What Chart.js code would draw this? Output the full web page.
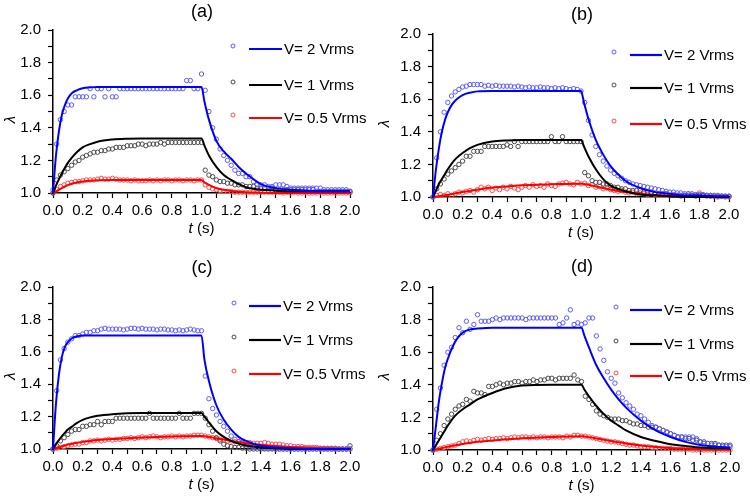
<!DOCTYPE html>
<html>
<head>
<meta charset="utf-8">
<script src="https://cdn.jsdelivr.net/npm/chart.js@4.4.1/dist/chart.umd.min.js"></script>
<style>
  body { margin: 0; background: #fff; }
  #wrap { position: relative; width: 750px; height: 497px; overflow: hidden; }
  .panel { position: absolute; }
</style>
</head>
<body>
<div id="wrap">
  <canvas id="pa" class="panel" width="375" height="248" style="left:0;top:0"></canvas>
  <canvas id="pb" class="panel" width="375" height="248" style="left:375px;top:0"></canvas>
  <canvas id="pc" class="panel" width="375" height="249" style="left:0;top:248px"></canvas>
  <canvas id="pd" class="panel" width="375" height="249" style="left:375px;top:248px"></canvas>
</div>
<script>
// measured time points (s)
const tData = [0, 0.025, 0.05, 0.075, 0.1, 0.125, 0.15, 0.175, 0.2, 0.225,
  0.25, 0.275, 0.3, 0.325, 0.35, 0.375, 0.4, 0.425, 0.45, 0.475,
  0.5, 0.525, 0.55, 0.575, 0.6, 0.625, 0.65, 0.675, 0.7, 0.725,
  0.75, 0.775, 0.8, 0.825, 0.85, 0.875, 0.9, 0.925, 0.95, 0.975,
  1.0, 1.025, 1.05, 1.075, 1.1, 1.125, 1.15, 1.175, 1.2, 1.225,
  1.25, 1.275, 1.3, 1.325, 1.35, 1.375, 1.4, 1.425, 1.45, 1.475,
  1.5, 1.525, 1.55, 1.575, 1.6, 1.625, 1.65, 1.675, 1.7, 1.725,
  1.75, 1.775, 1.8, 1.825, 1.85, 1.875, 1.9, 1.925, 1.95, 1.975,
  2.0];
// fit curve time points (s)
const tFit = [0, 0.02, 0.04, 0.06, 0.08, 0.1, 0.13, 0.16, 0.2, 0.25, 0.3, 0.4, 0.5, 0.6, 0.8, 1.0,
  1.02, 1.05, 1.1, 1.15, 1.2, 1.25, 1.3, 1.4, 1.5, 1.6, 1.7, 1.8, 1.9, 2.0];

const seriesNames = ['V= 2 Vrms', 'V= 1 Vrms', 'V= 0.5 Vrms'];
const xTicks = [0, 0.2, 0.4, 0.6, 0.8, 1.0, 1.2, 1.4, 1.6, 1.8, 2.0];
const yTicks = [1.0, 1.2, 1.4, 1.6, 1.8, 2.0];

// (a)
const aBlue = [1.02, 1.30, 1.45, 1.50, 1.54, 1.54, 1.59, 1.59, 1.59, 1.59,
  1.64, 1.59, 1.64, 1.64, 1.59, 1.64, 1.59, 1.59, 1.64, 1.64,
  1.64, 1.64, 1.64, 1.64, 1.64, 1.64, 1.64, 1.64, 1.64, 1.64,
  1.64, 1.64, 1.64, 1.64, 1.64, 1.64, 1.69, 1.69, 1.64, 1.64,
  1.73, 1.63, 1.50, 1.40, 1.33, 1.27, 1.23, 1.20, 1.17, 1.14,
  1.12, 1.12, 1.10, 1.10, 1.07, 1.05, 1.05, 1.05, 1.04, 1.04,
  1.05, 1.05, 1.05, 1.04, 1.03, 1.03, 1.03, 1.03, 1.03, 1.03,
  1.03, 1.03, 1.03, 1.02, 1.02, 1.02, 1.02, 1.02, 1.02, 1.02,
  1.01];
const aBlack = [1.00, 1.08, 1.11, 1.13, 1.15, 1.17, 1.19, 1.20, 1.22, 1.23,
  1.24, 1.25, 1.25, 1.26, 1.26, 1.27, 1.27, 1.28, 1.28, 1.28,
  1.29, 1.29, 1.29, 1.30, 1.30, 1.29, 1.30, 1.30, 1.30, 1.31,
  1.30, 1.31, 1.31, 1.31, 1.31, 1.31, 1.31, 1.31, 1.31, 1.31,
  1.31, 1.14, 1.11, 1.10, 1.08, 1.07, 1.07, 1.06, 1.06, 1.05,
  1.05, 1.05, 1.04, 1.04, 1.04, 1.03, 1.03, 1.03, 1.03, 1.03,
  1.02, 1.02, 1.02, 1.02, 1.02, 1.02, 1.02, 1.02, 1.02, 1.02,
  1.02, 1.01, 1.01, 1.01, 1.01, 1.01, 1.01, 1.01, 1.01, 1.01,
  1.01];
const aRed = [1.00, 1.02, 1.04, 1.05, 1.06, 1.065, 1.07, 1.07, 1.075, 1.08,
  1.08, 1.08, 1.085, 1.09, 1.085, 1.085, 1.09, 1.085, 1.08, 1.08,
  1.08, 1.075, 1.08, 1.075, 1.075, 1.075, 1.08, 1.075, 1.08, 1.075,
  1.08, 1.08, 1.075, 1.08, 1.08, 1.075, 1.08, 1.08, 1.075, 1.08,
  1.08, 1.05, 1.035, 1.025, 1.02, 1.015, 1.01, 1.01, 1.01, 1.005,
  1.005, 1.005, 1.005, 1.005, 1.005, 1.005, 1.005, 1.005, 1.005, 1.005,
  1.005, 1.005, 1.00, 1.005, 1.00, 1.005, 1.00, 1.00, 1.005, 1.00,
  1.00, 1.00, 1.005, 1.00, 1.00, 1.00, 1.00, 1.00, 1.00, 1.00,
  1.00];
const aBlueFit = [1.00, 1.23, 1.38, 1.48, 1.54, 1.58, 1.615, 1.63, 1.643, 1.648, 1.65, 1.65, 1.65, 1.65, 1.65, 1.65,
  1.56, 1.45, 1.32, 1.255, 1.21, 1.16, 1.12, 1.055, 1.03, 1.02, 1.015, 1.01, 1.01, 1.01];
const aBlackFit = [1.00, 1.045, 1.085, 1.12, 1.155, 1.185, 1.22, 1.25, 1.28, 1.30, 1.315, 1.328, 1.333, 1.335, 1.335, 1.335,
  1.29, 1.23, 1.16, 1.11, 1.08, 1.055, 1.035, 1.02, 1.015, 1.01, 1.01, 1.01, 1.01, 1.01];
const aRedFit = [1.00, 1.01, 1.02, 1.03, 1.04, 1.048, 1.058, 1.065, 1.07, 1.075, 1.078, 1.08, 1.08, 1.08, 1.08, 1.08,
  1.065, 1.05, 1.03, 1.02, 1.012, 1.008, 1.005, 1.002, 1.0, 1.0, 1.0, 1.0, 1.0, 1.0];

// (b)
const bBlue = [1.00, 1.24, 1.40, 1.52, 1.58, 1.62, 1.645, 1.66, 1.675, 1.68,
  1.69, 1.69, 1.69, 1.69, 1.68, 1.685, 1.68, 1.685, 1.68, 1.68,
  1.68, 1.68, 1.675, 1.68, 1.675, 1.67, 1.675, 1.67, 1.67, 1.675,
  1.67, 1.67, 1.665, 1.67, 1.665, 1.67, 1.665, 1.66, 1.665, 1.66,
  1.65, 1.58, 1.47, 1.38, 1.31, 1.26, 1.22, 1.19, 1.165, 1.145,
  1.13, 1.115, 1.10, 1.09, 1.08, 1.075, 1.07, 1.065, 1.06, 1.055,
  1.05, 1.045, 1.04, 1.035, 1.03, 1.03, 1.025, 1.025, 1.02, 1.02,
  1.02, 1.015, 1.015, 1.015, 1.01, 1.01, 1.01, 1.01, 1.005, 1.005,
  1.005];
const bBlack = [1.00, 1.05, 1.08, 1.11, 1.14, 1.16, 1.18, 1.20, 1.22, 1.25,
  1.25, 1.28, 1.28, 1.28, 1.31, 1.31, 1.31, 1.31, 1.31, 1.31,
  1.32, 1.31, 1.34, 1.31, 1.34, 1.34, 1.34, 1.34, 1.34, 1.34,
  1.34, 1.34, 1.37, 1.34, 1.34, 1.37, 1.34, 1.34, 1.34, 1.34,
  1.34, 1.15, 1.13, 1.10, 1.09, 1.09, 1.08, 1.08, 1.07, 1.06,
  1.06, 1.05, 1.05, 1.04, 1.04, 1.04, 1.04, 1.03, 1.03, 1.03,
  1.02, 1.02, 1.02, 1.02, 1.01, 1.01, 1.01, 1.01, 1.01, 1.01,
  1.01, 1.01, 1.01, 1.01, 1.01, 1.005, 1.005, 1.005, 1.005, 1.005,
  1.005];
const bRed = [1.00, 1.01, 1.015, 1.01, 1.02, 1.01, 1.02, 1.03, 1.025, 1.035,
  1.04, 1.03, 1.045, 1.06, 1.05, 1.06, 1.04, 1.055, 1.045, 1.06,
  1.05, 1.065, 1.055, 1.045, 1.06, 1.07, 1.06, 1.075, 1.065, 1.07,
  1.06, 1.08, 1.07, 1.065, 1.08, 1.085, 1.09, 1.08, 1.075, 1.09,
  1.08, 1.085, 1.07, 1.075, 1.06, 1.065, 1.05, 1.055, 1.045, 1.04,
  1.035, 1.04, 1.03, 1.025, 1.03, 1.02, 1.025, 1.02, 1.015, 1.02,
  1.015, 1.01, 1.015, 1.01, 1.01, 1.015, 1.01, 1.005, 1.01, 1.02,
  1.01, 1.005, 1.025, 1.01, 1.005, 1.01, 1.005, 1.00, 1.005, 1.00,
  1.00];
const bBlueFit = [1.00, 1.17, 1.30, 1.40, 1.47, 1.52, 1.57, 1.60, 1.625, 1.64, 1.648, 1.65, 1.65, 1.65, 1.65, 1.65,
  1.58, 1.48, 1.35, 1.26, 1.19, 1.14, 1.10, 1.055, 1.03, 1.02, 1.01, 1.01, 1.005, 1.005];
const bBlackFit = [1.00, 1.04, 1.08, 1.11, 1.14, 1.17, 1.21, 1.24, 1.27, 1.30, 1.32, 1.34, 1.347, 1.35, 1.35, 1.35,
  1.31, 1.25, 1.17, 1.11, 1.07, 1.05, 1.035, 1.015, 1.01, 1.005, 1.0, 1.0, 1.0, 1.0];
const bRedFit = [1.00, 1.002, 1.005, 1.008, 1.011, 1.014, 1.018, 1.024, 1.03, 1.037, 1.045, 1.058, 1.065, 1.072, 1.078, 1.082,
  1.08, 1.075, 1.065, 1.055, 1.045, 1.037, 1.03, 1.02, 1.013, 1.009, 1.006, 1.004, 1.003, 1.002];

// (c)
const cBlue = [1.00, 1.36, 1.55, 1.62, 1.66, 1.68, 1.70, 1.70, 1.71, 1.72,
  1.72, 1.73, 1.73, 1.74, 1.745, 1.74, 1.74, 1.74, 1.74, 1.735,
  1.74, 1.745, 1.745, 1.74, 1.745, 1.74, 1.74, 1.74, 1.735, 1.74,
  1.74, 1.735, 1.735, 1.73, 1.735, 1.73, 1.735, 1.74, 1.735, 1.73,
  1.73, 1.45, 1.31, 1.25, 1.21, 1.17, 1.14, 1.11, 1.08, 1.06,
  1.045, 1.035, 1.025, 1.02, 1.015, 1.01, 1.01, 1.005, 1.005, 1.005,
  1.00, 1.00, 1.00, 1.00, 1.00, 1.00, 1.00, 1.00, 1.00, 1.00,
  1.00, 1.00, 1.00, 1.00, 1.00, 1.00, 1.00, 1.00, 1.00, 1.00,
  1.00];
const cBlack = [1.00, 1.02, 1.05, 1.07, 1.09, 1.11, 1.12, 1.12, 1.14, 1.14,
  1.15, 1.15, 1.17, 1.15, 1.17, 1.17, 1.17, 1.19, 1.19, 1.19,
  1.19, 1.19, 1.19, 1.19, 1.19, 1.19, 1.22, 1.19, 1.19, 1.19,
  1.19, 1.19, 1.19, 1.19, 1.22, 1.19, 1.19, 1.19, 1.22, 1.22,
  1.22, 1.19, 1.15, 1.11, 1.07, 1.05, 1.03, 1.02, 1.015, 1.01,
  1.01, 1.005, 1.005, 1.00, 1.00, 1.00, 1.00, 1.00, 1.00, 1.00,
  1.00, 1.00, 1.00, 1.00, 1.00, 1.00, 1.00, 1.00, 1.00, 1.00,
  1.00, 1.00, 1.00, 1.00, 1.00, 1.00, 1.00, 1.00, 1.00, 1.00,
  1.02];
const cRed = [1.00, 1.005, 1.01, 1.015, 1.02, 1.025, 1.03, 1.03, 1.04, 1.04,
  1.05, 1.05, 1.055, 1.05, 1.055, 1.06, 1.055, 1.06, 1.06, 1.065,
  1.065, 1.07, 1.065, 1.07, 1.075, 1.07, 1.075, 1.08, 1.075, 1.07,
  1.075, 1.075, 1.08, 1.075, 1.08, 1.075, 1.08, 1.08, 1.085, 1.085,
  1.085, 1.08, 1.075, 1.07, 1.065, 1.06, 1.055, 1.05, 1.05, 1.045,
  1.045, 1.04, 1.04, 1.04, 1.035, 1.035, 1.035, 1.04, 1.035, 1.03,
  1.03, 1.03, 1.025, 1.02, 1.02, 1.015, 1.015, 1.015, 1.01, 1.01,
  1.01, 1.01, 1.005, 1.005, 1.005, 1.005, 1.005, 1.00, 1.00, 1.00,
  1.00];
const cBlueFit = [1.00, 1.28, 1.46, 1.57, 1.63, 1.66, 1.685, 1.695, 1.70, 1.70, 1.70, 1.70, 1.70, 1.70, 1.70, 1.70,
  1.55, 1.42, 1.27, 1.18, 1.12, 1.075, 1.05, 1.02, 1.01, 1.005, 1.0, 1.0, 1.0, 1.0];
const cBlackFit = [1.00, 1.03, 1.055, 1.08, 1.10, 1.12, 1.14, 1.16, 1.18, 1.195, 1.205, 1.215, 1.22, 1.222, 1.222, 1.222,
  1.20, 1.165, 1.11, 1.075, 1.05, 1.033, 1.022, 1.01, 1.005, 1.0, 1.0, 1.0, 1.0, 1.0];
const cRedFit = [1.00, 1.005, 1.01, 1.016, 1.022, 1.027, 1.033, 1.038, 1.044, 1.05, 1.055, 1.062, 1.067, 1.071, 1.077, 1.08,
  1.078, 1.074, 1.066, 1.058, 1.05, 1.043, 1.036, 1.026, 1.018, 1.012, 1.008, 1.005, 1.003, 1.002];

// (d)
const dBlue = [1.00, 1.25, 1.38, 1.52, 1.60, 1.63, 1.69, 1.75, 1.72, 1.79,
  1.74, 1.77, 1.83, 1.79, 1.79, 1.79, 1.80, 1.81, 1.80, 1.81,
  1.81, 1.81, 1.81, 1.81, 1.81, 1.80, 1.81, 1.81, 1.81, 1.81,
  1.81, 1.81, 1.81, 1.81, 1.77, 1.78, 1.81, 1.86, 1.77, 1.78,
  1.77, 1.78, 1.81, 1.81, 1.70, 1.62, 1.55, 1.48, 1.44, 1.41,
  1.35, 1.32, 1.29, 1.27, 1.25, 1.22, 1.21, 1.19, 1.17, 1.15,
  1.14, 1.13, 1.12, 1.11, 1.10, 1.09, 1.08, 1.08, 1.08, 1.08,
  1.08, 1.07, 1.05, 1.04, 1.04, 1.03, 1.03, 1.03, 1.02, 1.02,
  1.02];
const dBlack = [1.00, 1.06, 1.10, 1.15, 1.19, 1.22, 1.25, 1.27, 1.28, 1.31,
  1.30, 1.36, 1.35, 1.35, 1.34, 1.39, 1.39, 1.40, 1.41, 1.40,
  1.41, 1.41, 1.42, 1.42, 1.41, 1.42, 1.42, 1.43, 1.42, 1.43,
  1.43, 1.44, 1.44, 1.43, 1.44, 1.44, 1.44, 1.44, 1.46, 1.43,
  1.42, 1.33, 1.31, 1.28, 1.24, 1.22, 1.21, 1.20, 1.19, 1.19,
  1.19, 1.18, 1.18, 1.17, 1.16, 1.16, 1.15, 1.15, 1.14, 1.14,
  1.14, 1.13, 1.12, 1.11, 1.10, 1.09, 1.08, 1.08, 1.07, 1.07,
  1.06, 1.06, 1.05, 1.05, 1.04, 1.04, 1.04, 1.03, 1.03, 1.03,
  1.03];
const dRed = [1.00, 1.005, 1.01, 1.015, 1.02, 1.025, 1.03, 1.04, 1.05, 1.055,
  1.05, 1.06, 1.065, 1.06, 1.065, 1.07, 1.065, 1.07, 1.07, 1.075,
  1.07, 1.075, 1.08, 1.075, 1.08, 1.08, 1.075, 1.08, 1.075, 1.08,
  1.08, 1.075, 1.08, 1.08, 1.08, 1.075, 1.085, 1.08, 1.09, 1.09,
  1.085, 1.085, 1.08, 1.075, 1.07, 1.065, 1.06, 1.055, 1.05, 1.05,
  1.045, 1.04, 1.035, 1.03, 1.03, 1.025, 1.02, 1.02, 1.02, 1.015,
  1.015, 1.01, 1.01, 1.01, 1.01, 1.005, 1.005, 1.005, 1.005, 1.005,
  1.00, 1.00, 1.00, 1.00, 1.00, 1.00, 1.00, 1.00, 1.00, 1.00,
  1.00];
const dBlueFit = [1.00, 1.15, 1.30, 1.41, 1.50, 1.56, 1.63, 1.68, 1.72, 1.74, 1.745, 1.75, 1.75, 1.75, 1.75, 1.75,
  1.70, 1.63, 1.52, 1.44, 1.37, 1.31, 1.26, 1.18, 1.12, 1.08, 1.05, 1.03, 1.02, 1.015];
const dBlackFit = [1.00, 1.03, 1.06, 1.09, 1.12, 1.15, 1.19, 1.22, 1.25, 1.28, 1.31, 1.35, 1.38, 1.395, 1.40, 1.40,
  1.37, 1.33, 1.27, 1.22, 1.18, 1.15, 1.12, 1.08, 1.055, 1.035, 1.025, 1.015, 1.01, 1.01];
const dRedFit = [1.00, 1.004, 1.008, 1.012, 1.016, 1.02, 1.026, 1.031, 1.037, 1.044, 1.05, 1.059, 1.066, 1.072, 1.08, 1.085,
  1.083, 1.079, 1.071, 1.063, 1.055, 1.047, 1.04, 1.028, 1.019, 1.012, 1.008, 1.005, 1.003, 1.002];

const FONT = '"Liberation Sans", Arial, sans-serif';
const lineColors = ['#0000ff', '#000000', '#ff0000'];
const dotColors = ['#5a5aff', '#4a4a4a', '#ff4a4a'];

function pts(xs, ys) {
  return xs.map((x, i) => ({x: x, y: ys[i]}));
}

// panel label, axis titles and the circle+line legend
const decor = {
  id: 'decor',
  afterDraw(chart, args, o) {
    const ctx = chart.ctx, ca = chart.chartArea;
    ctx.save();
    ctx.fillStyle = '#000';
    ctx.textBaseline = 'middle';
    ctx.textAlign = 'center';
    ctx.font = '18px ' + FONT;
    ctx.fillText(o.label, o.labelX, o.labelY);

    // x title: italic t, upright (s)
    ctx.font = 'italic 15px ' + FONT;
    const wT = ctx.measureText('t').width;
    ctx.font = '15px ' + FONT;
    const wS = ctx.measureText(' (s)').width;
    let x0 = (ca.left + ca.right) / 2 - (wT + wS) / 2;
    const yT = ca.bottom + 36;
    ctx.textAlign = 'left';
    ctx.font = 'italic 15px ' + FONT;
    ctx.fillText('t', x0, yT);
    ctx.font = '15px ' + FONT;
    ctx.fillText(' (s)', x0 + wT, yT);

    // y title
    ctx.save();
    ctx.translate(o.lamX, (ca.top + ca.bottom) / 2 + 8);
    ctx.rotate(-Math.PI / 2);
    ctx.textAlign = 'center';
    ctx.font = 'italic 15px ' + FONT;
    ctx.fillText('\u03BB', 0, 0);
    ctx.restore();

    // legend
    ctx.textAlign = 'left';
    ctx.font = '15px ' + FONT;
    seriesNames.forEach((name, i) => {
      const y = o.rows[i];
      ctx.strokeStyle = dotColors[i];
      ctx.lineWidth = 1;
      ctx.beginPath();
      ctx.arc(o.dotX, y - 3, 2, 0, Math.PI * 2);
      ctx.stroke();
      ctx.strokeStyle = lineColors[i];
      ctx.lineWidth = 2.2;
      ctx.beginPath();
      ctx.moveTo(o.lineX1, y);
      ctx.lineTo(o.lineX2, y);
      ctx.stroke();
      ctx.fillStyle = '#000';
      ctx.fillText(name, o.textX, y + 1);
    });
    ctx.restore();
  }
};

function makePanel(id, p) {
  const datasets = [];
  p.fits.forEach((f, i) => {
    datasets.push({
      data: pts(tFit, f),
      showLine: true,
      borderColor: lineColors[i],
      borderWidth: 2,
      pointRadius: 0,
      cubicInterpolationMode: 'monotone',
      clip: 2
    });
  });
  p.dots.forEach((d, i) => {
    datasets.push({
      data: pts(tData, d),
      showLine: false,
      pointStyle: 'circle',
      pointRadius: 2.2,
      pointBorderWidth: 1,
      pointBorderColor: dotColors[i],
      pointBackgroundColor: 'rgba(255,255,255,0)',
      clip: 4
    });
  });

  new Chart(document.getElementById(id), {
    type: 'scatter',
    data: { datasets: datasets },
    options: {
      responsive: false,
      animation: false,
      events: [],
      layout: { padding: { left: 0, right: p.padR, top: p.padT, bottom: 0 } },
      plugins: {
        legend: { display: false },
        tooltip: { enabled: false },
        decor: p.decor
      },
      scales: {
        x: {
          type: 'linear', min: 0, max: 2,
          afterFit: s => { s.height = p.xH; },
          border: { color: '#000', width: 1.5 },
          grid: { drawOnChartArea: false, drawTicks: true, tickLength: 5, tickColor: '#000', tickWidth: 1.2 },
          ticks: {
            stepSize: 0.1, padding: 4, color: '#000', maxRotation: 0, autoSkip: false,
            font: { family: FONT, size: 15 },
            callback: v => xTicks.some(t => Math.abs(t - v) < 1e-6) ? v.toFixed(1) : ''
          }
        },
        y: {
          type: 'linear', min: 1, max: 2,
          afterFit: s => { s.width = p.yW; },
          border: { color: '#000', width: 1.5 },
          grid: { drawOnChartArea: false, drawTicks: true, tickLength: 5, tickColor: '#000', tickWidth: 1.2 },
          ticks: {
            stepSize: 0.1, padding: 7, color: '#000', autoSkip: false,
            font: { family: FONT, size: 15 },
            callback: v => yTicks.some(t => Math.abs(t - v) < 1e-6) ? v.toFixed(1) : ''
          }
        }
      }
    },
    plugins: [decor]
  });
}

makePanel('pa', {
  fits: [aBlueFit, aBlackFit, aRedFit], dots: [aBlue, aBlack, aRed],
  padR: 25, padT: 30, yW: 53, xH: 55,
  decor: { label: '(a)', labelX: 202, labelY: 12, lamX: 11, dotX: 233, lineX1: 249, lineX2: 282, textX: 284, rows: [49, 85, 118] }
});
makePanel('pb', {
  fits: [bBlueFit, bBlackFit, bRedFit], dots: [bBlue, bBlack, bRed],
  padR: 21, padT: 34, yW: 58, xH: 51,
  decor: { label: '(b)', labelX: 207, labelY: 15, lamX: 10, dotX: 239, lineX1: 255, lineX2: 287, textX: 289, rows: [55, 88, 124] }
});
makePanel('pc', {
  fits: [cBlueFit, cBlackFit, cRedFit], dots: [cBlue, cBlack, cRed],
  padR: 25, padT: 39, yW: 53, xH: 48,
  decor: { label: '(c)', labelX: 202, labelY: 20, lamX: 11, dotX: 234, lineX1: 249, lineX2: 281, textX: 283, rows: [58, 92, 126] }
});
makePanel('pd', {
  fits: [dBlueFit, dBlackFit, dRedFit], dots: [dBlue, dBlack, dRed],
  padR: 20, padT: 39, yW: 58, xH: 47,
  decor: { label: '(d)', labelX: 207, labelY: 19, lamX: 10, dotX: 241, lineX1: 255, lineX2: 287, textX: 289, rows: [62, 96, 128] }
});
</script>
</body>
</html>
